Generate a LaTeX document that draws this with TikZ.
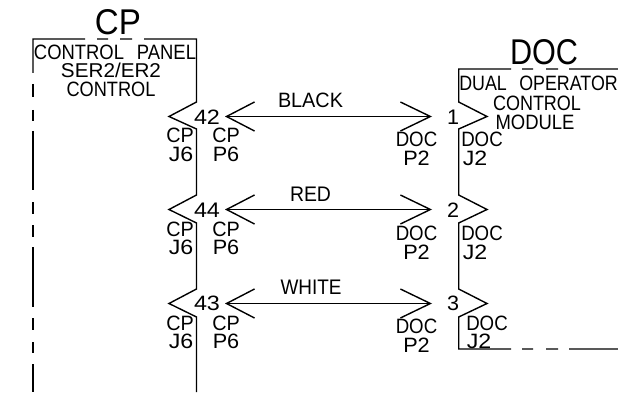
\documentclass[tikz,border=0pt]{standalone}
\usepackage{fontspec}
\usepackage{graphicx}
\setmainfont{Liberation Sans}
\usetikzlibrary{arrows.meta}
\newcommand{\Tx}[2]{\resizebox{#1pt}{14.5pt}{#2}}
\newcommand{\Tb}[2]{\resizebox{#1pt}{25pt}{#2}}
\tikzset{
  wire/.style={line width=1.4pt,black,line join=miter},
  link/.style={line width=1.4pt,black,{Straight Barb[length=28pt,width=29pt,line width=1.4pt]}-{Straight Barb[length=30pt,width=29pt,line width=1.4pt]}},
  small/.style={inner sep=0pt,text height=14.5pt,text depth=0pt,font=\fontsize{20}{20}\selectfont},
  big/.style={inner sep=0pt,text height=25pt,text depth=0pt,font=\fontsize{35}{35}\selectfont},
}
\begin{document}
\begin{tikzpicture}[x=1pt,y=-1pt]
\useasboundingbox (0,0) rectangle (618,393);
\fill[white] (0,0) rectangle (618,393);
% left box
\draw[wire] (33,73) -- (33,39) -- (85,39) (97,39) -- (108,39) (120,39) -- (132,39)
  (144,39) -- (196.5,39) -- (196.5,102) -- (169,116.5) -- (196.5,129) -- (196.5,195) -- (169,209.5) -- (196.5,223)
  -- (196.5,289) -- (169,303.5) -- (196.5,317) -- (196.5,392);
\draw[wire] (33,84) -- (33,97) (33,110) -- (33,121) (33,131) -- (33,190)
  (33,202) -- (33,214) (33,225) -- (33,237) (33,247) -- (33,307)
  (33,318) -- (33,330) (33,342) -- (33,353) (33,364) -- (33,392);
% right box
\draw[wire] (618,69) -- (569,69) (558,69) -- (546,69) (533,69) -- (522,69)
  (511,69) -- (458.7,69) -- (458.7,102) -- (487,116.5) -- (458.7,129) -- (458.7,195) -- (487,209.5) -- (458.7,223)
  -- (458.7,289) -- (487,303.5) -- (458.7,317) -- (458.7,349) -- (511,349) (522,349) -- (533,349) (546,349) -- (558,349) (569,349) -- (618,349);
% wire ends
\coordinate (a1) at (225,116.5); \coordinate (b1) at (432,116.5);
\coordinate (a2) at (225,209.5); \coordinate (b2) at (432,209.5);
\coordinate (a3) at (225,303.5); \coordinate (b3) at (432,303.5);
\draw[link] (a1) -- (b1);
\draw[link] (a2) -- (b2);
\draw[link] (a3) -- (b3);
% titles
\node[big] (cp) at (118,22) {\Tb{46}{CP}};
\node[big] (doc) at (544,52) {\Tb{68}{DOC}};
\node[small] (t1) at (115,52) {\Tx{162}{CONTROL\hspace{14pt}PANEL}};
\node[small] (t2) at (111,70.5) {\Tx{100}{SER2/ER2}};
\node[small] (t3) at (111,89.5) {\Tx{89}{CONTROL}};
\node[small] (u1) at (538.5,83) {\Tx{158.5}{DUAL\hspace{14pt}OPERATOR}};
\node[small] (u2) at (537,103) {\Tx{88}{CONTROL}};
\node[small] (u3) at (535,122) {\Tx{79}{MODULE}};
% wire labels
\node[small] (w1) at (310.5,100) {\Tx{65}{BLACK}};
\node[small] (w2) at (310.5,194) {\Tx{41}{RED}};
\node[small] (w3) at (311,287) {\Tx{61}{WHITE}};
% pin numbers
\node[small] (n42) at (207,117) {\Tx{26}{42}};
\node[small] (n44) at (207,210) {\Tx{26}{44}};
\node[small] (n43) at (207,303) {\Tx{26}{43}};
\node[small] (n1) at (453,117) {\Tx{12}{1}};
\node[small] (n2) at (453,210) {\Tx{12}{2}};
\node[small] (n3) at (453,303) {\Tx{12}{3}};
% connector refs, left
\node[small] (l1a) at (180,135.5) {\Tx{27.5}{CP}};  \node[small] (l1b) at (181,154) {\Tx{24.5}{J6}};
\node[small] (l2a) at (180,229) {\Tx{27.5}{CP}};    \node[small] (l2b) at (181,247) {\Tx{24.5}{J6}};
\node[small] (l3a) at (180,323) {\Tx{27.5}{CP}};    \node[small] (l3b) at (181,341) {\Tx{24.5}{J6}};
\node[small] (m1a) at (226,135.5) {\Tx{27.5}{CP}};  \node[small] (m1b) at (226,154) {\Tx{26.5}{P6}};
\node[small] (m2a) at (226,229) {\Tx{27.5}{CP}};    \node[small] (m2b) at (226,247) {\Tx{26.5}{P6}};
\node[small] (m3a) at (226,323) {\Tx{27.5}{CP}};    \node[small] (m3b) at (226,341) {\Tx{26.5}{P6}};
% connector refs, right
\node[small] (p1a) at (416.5,139) {\Tx{41.5}{DOC}}; \node[small] (p1b) at (416.5,158) {\Tx{26.5}{P2}};
\node[small] (p2a) at (416.5,233) {\Tx{41.5}{DOC}}; \node[small] (p2b) at (416.5,252) {\Tx{26.5}{P2}};
\node[small] (p3a) at (416.5,326) {\Tx{41.5}{DOC}}; \node[small] (p3b) at (416.5,345) {\Tx{26.5}{P2}};
\node[small] (j1a) at (482,139) {\Tx{41.5}{DOC}};   \node[small] (j1b) at (475,158) {\Tx{24.5}{J2}};
\node[small] (j2a) at (482,233) {\Tx{41.5}{DOC}};   \node[small] (j2b) at (475,252) {\Tx{24.5}{J2}};
\node[small] (j3a) at (487,323) {\Tx{41.5}{DOC}};   \node[small] (j3b) at (479,341) {\Tx{24.5}{J2}};
\end{tikzpicture}
\end{document}
